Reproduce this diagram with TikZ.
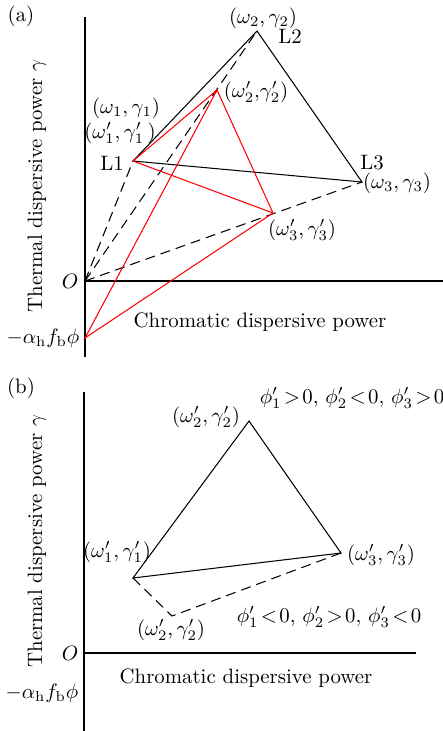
\documentclass[tikz,border=0pt]{standalone}
\usepackage{amsmath,amssymb}
\usepackage{xcolor}
\usepackage{tikz}
\usetikzlibrary{positioning}

\newcommand{\nrel}[1]{\mkern2mu{#1}\mkern2mu}

\begin{document}
\begin{tikzpicture}[x=0.48pt, y=-0.48pt,
    axis/.style={line width=0.75pt},
    edge/.style={line width=0.5pt},
    rededge/.style={line width=0.5pt, red},
    guide/.style={line width=0.5pt, dash pattern=on 4.8pt off 2.9pt},
    lbl/.style={inner sep=0pt}]
    \useasboundingbox (0,0) rectangle (443,731);

    % panel (a)
    \coordinate (Oa) at (85,281);
    \coordinate (Na) at (85,338);
    \coordinate (L1p) at (133,161);
    \coordinate (L2p) at (257,31);
    \coordinate (L3p) at (362,182);
    \coordinate (R2p) at (217,90);
    \coordinate (R3p) at (273,213);
    \coordinate (Ya0) at (85,17);
    \coordinate (Ya1) at (85,357);
    \coordinate (Xa1) at (443,281);

    \draw [axis] (Ya0) -- (Ya1);
    \draw [axis] (Oa) -- (Xa1);

    \draw [guide] (Oa) -- (L1p);
    \draw [guide] (Oa) -- (L2p);
    \draw [guide] (Oa) -- (L3p);

    \draw [edge] (L1p) -- (L2p) -- (L3p) -- cycle;
    \draw [rededge] (L1p) -- (R2p) -- (R3p) -- cycle;
    \draw [rededge] (R2p) -- (Na) -- (R3p);

    \node (tagA) at (21,16) [lbl] {(a)};
    \node (w2) at (263,18) [lbl] {$(\omega_2,\gamma_2)$};
    \node (nL2) at (290,36) [lbl] {L2};
    \node (w2r) at (256,92) [lbl] {$(\omega'_2,\!\gamma'_2)$};
    \node (w1) at (126,108) [lbl] {$(\omega_1,\gamma_1)$};
    \node (w1r) at (120,133) [lbl] {$(\omega'_1,\gamma'_1\,)$};
    \node (nL1) at (112,163) [lbl] {L1};
    \node (nL3) at (372,163) [lbl] {L3};
    \node (w3) at (397,183) [lbl] {$(\omega_3,\gamma_3)$};
    \node (w3r) at (302,230) [lbl] {$(\omega'_3,\gamma'_3)$};
    \node (origA) at (70,281) [lbl] {$O$};
    \node (negA) at (43,338) [lbl] {$-\alpha_{\mathrm{h}}f_{\mathrm{b}}\phi$};
    \node (xlabA) at (260,322) [lbl] {Chromatic dispersive power};
    \node (ylabA) at (37,186) [lbl, rotate=90] {Thermal dispersive power $\gamma$};

    % panel (b)
    \coordinate (Ob) at (84,653);
    \coordinate (P1) at (133,578);
    \coordinate (P2) at (249,421);
    \coordinate (P3) at (341,553);
    \coordinate (Q2) at (172,616);
    \coordinate (Yb0) at (84,392);
    \coordinate (Yb1) at (84,731);
    \coordinate (Xb1) at (416,653);

    \draw [axis] (Yb0) -- (Yb1);
    \draw [axis] (Ob) -- (Xb1);

    \draw [edge] (P1) -- (P2) -- (P3) -- cycle;
    \draw [guide] (P1) -- (Q2) -- (P3);

    \node (tagB) at (21,388) [lbl] {(b)};
    \node (v2) at (206,417) [lbl] {$(\omega'_2,\gamma'_2)$};
    \node (signTop) at (352,398) [lbl] {$\phi'_1\nrel{>}0,\,\phi'_2\nrel{<}0,\,\phi'_3\nrel{>}0$};
    \node (v1) at (117,552) [lbl] {$(\omega'_1,\gamma'_1)$};
    \node (v3) at (381,555) [lbl] {$(\omega'_3,\gamma'_3)$};
    \node (v2low) at (171,630) [lbl] {$(\omega'_2,\gamma'_2)$};
    \node (signLow) at (329,617) [lbl] {$\phi'_1\nrel{<}0,\,\phi'_2\nrel{>}0,\,\phi'_3\nrel{<}0$};
    \node (origB) at (70,653) [lbl] {$O$};
    \node (negB) at (42,693) [lbl] {$-\alpha_{\mathrm{h}}f_{\mathrm{b}}\phi$};
    \node (xlabB) at (246,678) [lbl] {Chromatic dispersive power};
    \node (ylabB) at (37,541) [lbl, rotate=90] {Thermal dispersive power $\gamma$};
\end{tikzpicture}
\end{document}
